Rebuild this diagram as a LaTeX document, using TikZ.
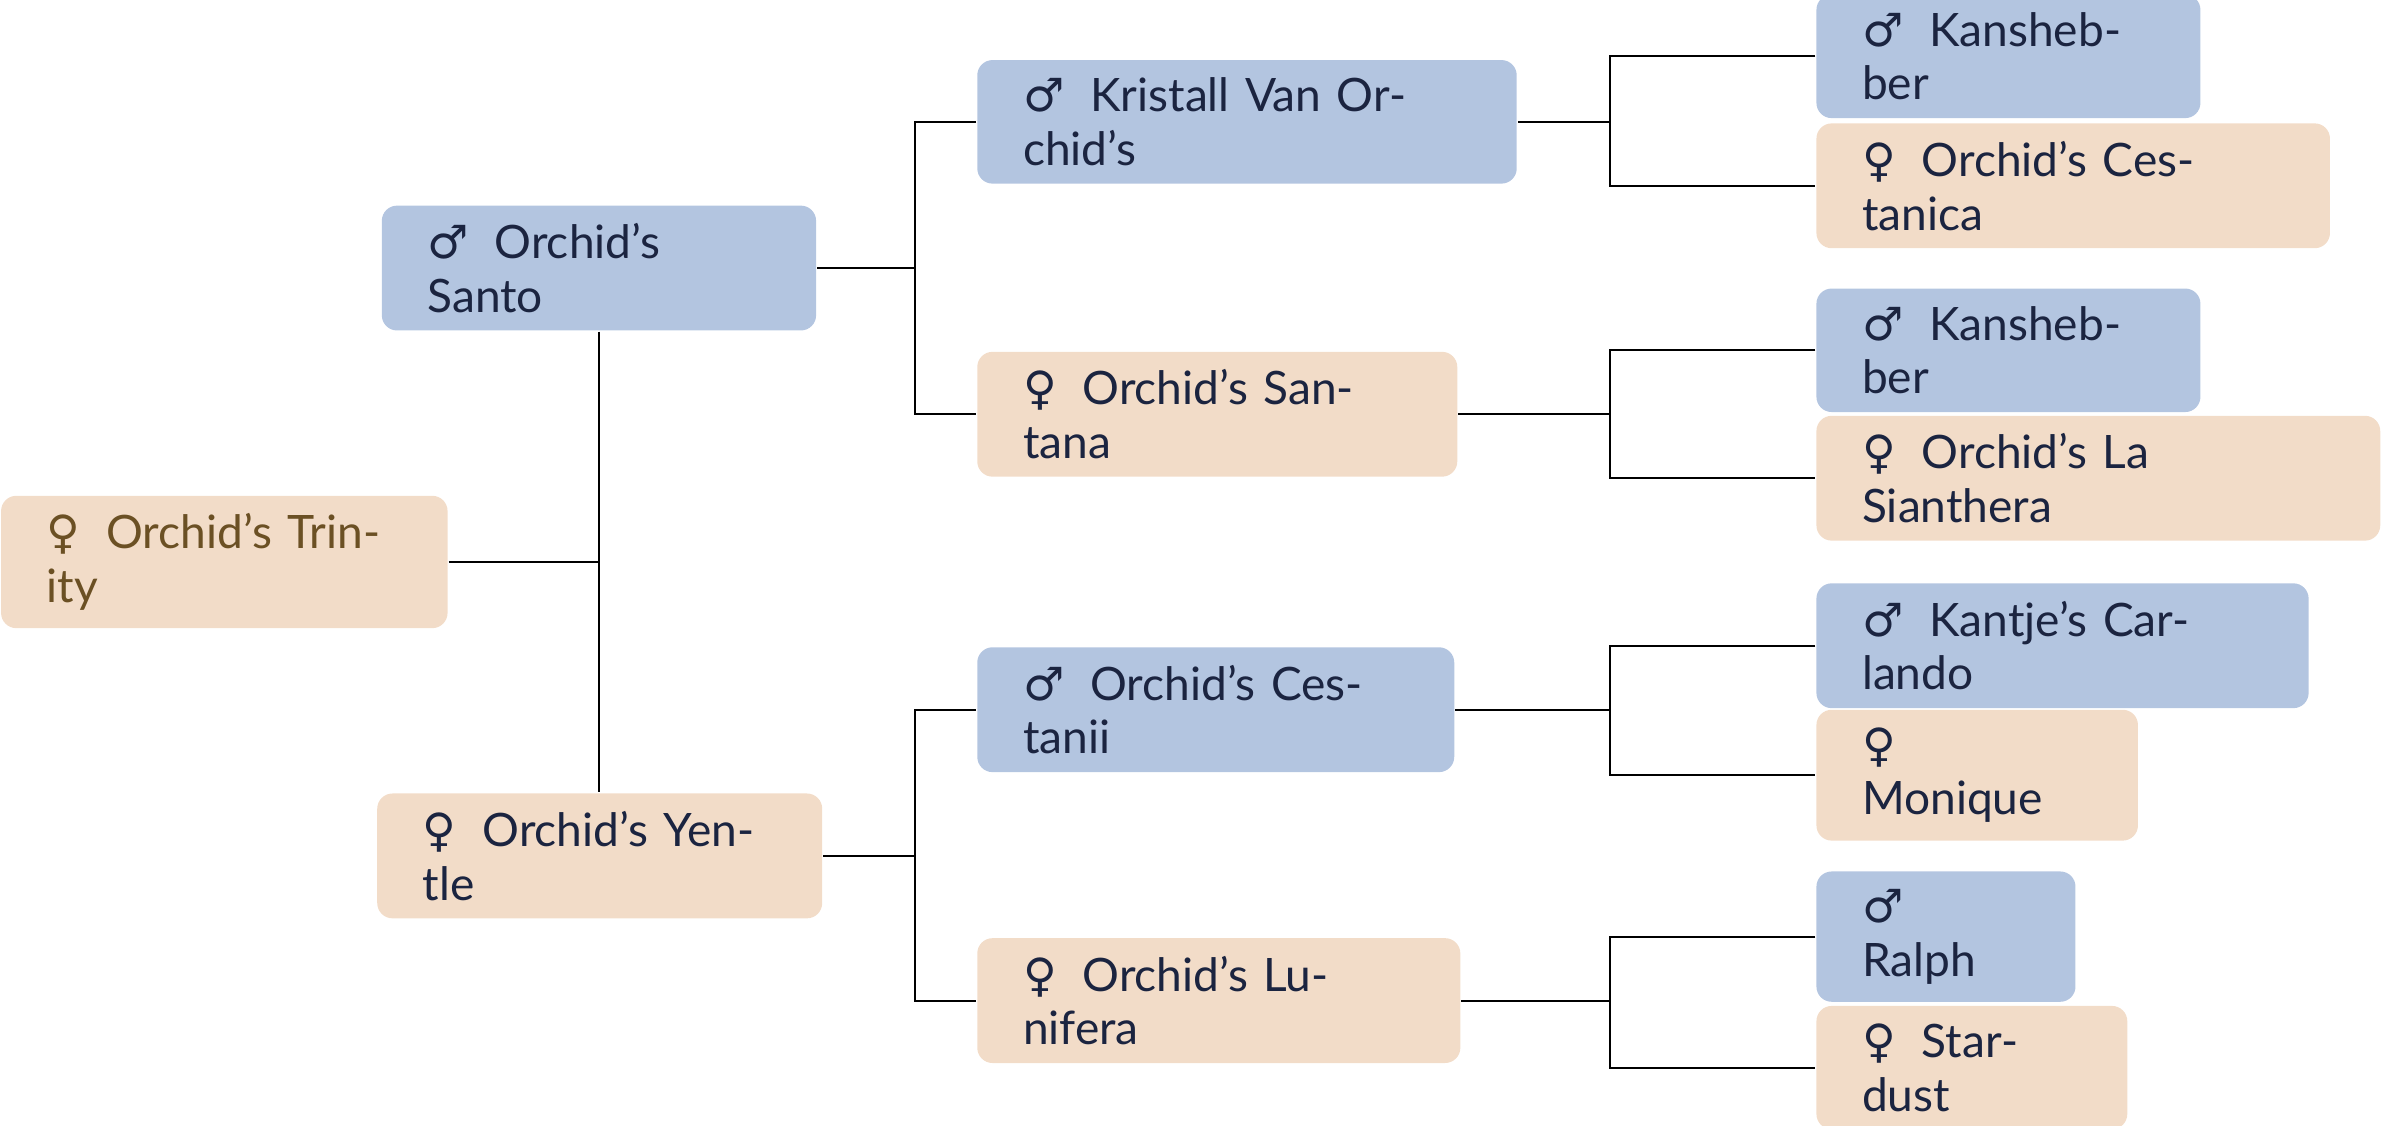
\documentclass[tikz,border=0pt]{standalone}
\usepackage{fontspec}
\setmainfont{Lato}
\newfontfamily\symfont{DejaVu Sans}
\usetikzlibrary{positioning, calc}
\definecolor{maleblue}{HTML}{B3C5E0}
\definecolor{femalesand}{HTML}{F2DCC8}
\definecolor{inkblue}{HTML}{1B2440}
\definecolor{inkbrown}{HTML}{6B5024}
\newcommand{\sMale}{{\symfont\char"2642}\hspace{0.17cm}}
\newcommand{\sFemale}{{\symfont\char"2640}\hspace{0.17cm}}
\begin{document}
\begin{tikzpicture}[x=0.01cm, y=-0.01cm, thin,
    dog/.style = {anchor=west, rounded corners=0.1cm, minimum height=0.73cm, inner xsep=0.3cm,
                  align=left, text=inkblue, font=\fontsize{8.6}{10}\selectfont},
    male/.style = {dog, fill=maleblue},
    female/.style = {dog, fill=femalesand}]
    \useasboundingbox (0,0) rectangle (1568,739);
    \node[female, text=inkbrown, text width=2.33cm] (trinity) at (0,369) {\sFemale Orchid’s Trinity};
    \node[male, text width=2.25cm] (santo) at (250,176) {\sMale Orchid’s Santo};
    \node[female, text width=2.32cm] (yentle) at (247,562) {\sFemale Orchid’s Yentle};
    \node[male, text width=2.94cm] (kristall) at (641,80) {\sMale Kristall Van Orchid’s};
    \node[female, text width=2.55cm] (santana) at (641,272) {\sFemale Orchid’s Santana};
    \node[male, text width=2.53cm] (cestanii) at (641,466) {\sMale Orchid’s Cestanii};
    \node[female, text width=2.57cm] (lunifera) at (641,657) {\sFemale Orchid’s Lunifera};
    \node[male, text width=1.92cm] (kansh1) at (1192,37) {\sMale Kanshebber};
    \node[female, text width=2.77cm] (cestanica) at (1192,122) {\sFemale Orchid’s Cestanica};
    \node[male, text width=1.92cm] (kansh2) at (1192,230) {\sMale Kanshebber};
    \node[female, text width=3.10cm] (sianthera) at (1192,314) {\sFemale Orchid’s La Sianthera};
    \node[male, text width=2.63cm] (carlando) at (1192,424) {\sMale Kantje’s Carlando};
    \node[female, text width=1.51cm] (monique) at (1192,509) {\sFemale Monique};
    \node[male, text width=1.10cm] (ralph) at (1192,615) {\sMale Ralph};
    \node[female, text width=1.44cm] (stardust) at (1192,701) {\sFemale Stardust};

    % parents of Trinity
    \draw (santo.south) -- (yentle.north -| santo.south);
    \draw (trinity.east) -- (trinity.east -| santo.south);
    % grandparents
    \draw (kristall.west) -- ++(-40,0) coordinate (b1) |- (santana.west);
    \draw (santo.east) -- (santo.east -| b1);
    \draw (cestanii.west) -- ++(-40,0) coordinate (b2) |- (lunifera.west);
    \draw (yentle.east) -- (yentle.east -| b2);
    % great-grandparents
    \draw (kansh1.west) -- ++(-135,0) coordinate (c1) |- (cestanica.west);
    \draw (kristall.east) -- (kristall.east -| c1);
    \draw (kansh2.west) -- ++(-135,0) coordinate (c2) |- (sianthera.west);
    \draw (santana.east) -- (santana.east -| c2);
    \draw (carlando.west) -- ++(-135,0) coordinate (c3) |- (monique.west);
    \draw (cestanii.east) -- (cestanii.east -| c3);
    \draw (ralph.west) -- ++(-135,0) coordinate (c4) |- (stardust.west);
    \draw (lunifera.east) -- (lunifera.east -| c4);
\end{tikzpicture}
\end{document}
